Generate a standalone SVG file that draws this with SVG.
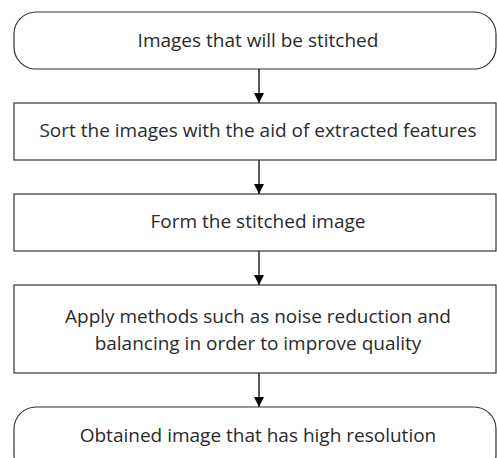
<svg xmlns="http://www.w3.org/2000/svg" width="497" height="458" viewBox="0 0 497 458">
<style>
.box{fill:#fff;stroke:#333;stroke-width:1.2}
.t{font-family:"Open Sans","Liberation Sans",sans-serif;font-size:19px;fill:#2a2a2a;text-anchor:middle}
.c{stroke:#000;stroke-width:1.3;fill:none}
</style>
<defs>
<marker id="ah" viewBox="0 0 10 10" refX="10" refY="5" markerWidth="10" markerHeight="10" markerUnits="userSpaceOnUse" orient="auto">
<path d="M0,0 L10,5 L0,10 z" fill="#000"/>
</marker>
</defs>
<g id="connectors">
<line class="c" x1="259" y1="69" x2="259" y2="103" marker-end="url(#ah)"/>
<line class="c" x1="259" y1="160" x2="259" y2="194" marker-end="url(#ah)"/>
<line class="c" x1="259" y1="251" x2="259" y2="285" marker-end="url(#ah)"/>
<line class="c" x1="259" y1="373" x2="259" y2="407" marker-end="url(#ah)"/>
</g>
<g id="start">
<rect class="box" x="14" y="12" width="482" height="57" rx="22"/>
<text class="t" x="258" y="47">Images that will be stitched</text>
</g>
<g id="sort">
<rect class="box" x="14" y="103" width="482" height="57"/>
<text class="t" x="258" y="137">Sort the images with the aid of extracted features</text>
</g>
<g id="form">
<rect class="box" x="14" y="194" width="482" height="57"/>
<text class="t" x="258" y="228">Form the stitched image</text>
</g>
<g id="apply">
<rect class="box" x="14" y="285" width="482" height="88"/>
<text class="t" x="258" y="323">Apply methods such as noise reduction and</text>
<text class="t" x="258" y="350">balancing in order to improve quality</text>
</g>
<g id="end">
<rect class="box" x="14" y="407" width="482" height="70" rx="22"/>
<text class="t" x="258" y="442">Obtained image that has high resolution</text>
</g>
</svg>
